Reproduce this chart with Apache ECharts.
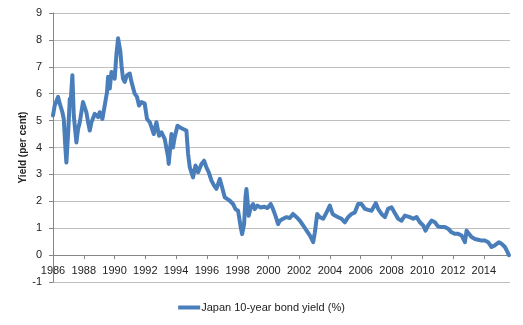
<!DOCTYPE html>
<html>
<head>
<meta charset="utf-8">
<script src="https://cdn.jsdelivr.net/npm/echarts@6/dist/echarts.min.js"></script>
<style>
  html, body { margin: 0; padding: 0; background: #fff; }
  #chart { width: 523px; height: 325px; }
</style>
</head>
<body>
<div id="chart"></div>
<script>
// Japan 10-year government bond yield, sampled as (decimal year, per cent)
const years = [
  1986.00, 1986.11, 1986.33, 1986.44, 1986.61, 1986.70, 1986.81, 1986.87, 1986.99, 1987.09,
  1987.13, 1987.26, 1987.35, 1987.52, 1987.63, 1987.74, 1987.95, 1988.06, 1988.17, 1988.28,
  1988.39, 1988.50, 1988.71, 1988.93, 1989.04, 1989.21, 1989.36, 1989.51, 1989.58, 1989.69,
  1989.80, 1989.90, 1990.01, 1990.12, 1990.23, 1990.29, 1990.38, 1990.45, 1990.55, 1990.66,
  1990.81, 1990.99, 1991.10, 1991.31, 1991.46, 1991.59, 1991.75, 1991.96, 1992.11, 1992.29,
  1992.55, 1992.72, 1992.89, 1993.05, 1993.26, 1993.48, 1993.52, 1993.70, 1993.80, 1993.91,
  1994.09, 1994.24, 1994.45, 1994.67, 1994.78, 1994.89, 1995.10, 1995.26, 1995.43, 1995.65,
  1995.82, 1995.97, 1996.12, 1996.30, 1996.47, 1996.62, 1996.84, 1996.99, 1997.16, 1997.34,
  1997.49, 1997.70, 1997.86, 1998.03, 1998.20, 1998.29, 1998.42, 1998.51, 1998.57, 1998.64,
  1998.72, 1998.85, 1999.00, 1999.11, 1999.29, 1999.50, 1999.72, 1999.94, 2000.15, 2000.30,
  2000.46, 2000.63, 2000.74, 2000.95, 2001.18, 2001.39, 2001.60, 2001.83, 2002.04, 2002.26,
  2002.48, 2002.69, 2002.91, 2003.02, 2003.17, 2003.34, 2003.56, 2003.78, 2003.99, 2004.17,
  2004.32, 2004.53, 2004.75, 2004.97, 2005.18, 2005.40, 2005.62, 2005.83, 2006.05, 2006.27,
  2006.48, 2006.70, 2006.98, 2007.13, 2007.35, 2007.57, 2007.78, 2008.00, 2008.22, 2008.43,
  2008.65, 2008.87, 2008.98, 2009.19, 2009.41, 2009.63, 2009.84, 2010.06, 2010.21, 2010.38,
  2010.60, 2010.82, 2011.03, 2011.25, 2011.47, 2011.68, 2011.90, 2012.12, 2012.33, 2012.55,
  2012.77, 2012.88, 2013.03, 2013.20, 2013.42, 2013.63, 2013.85, 2014.07, 2014.28, 2014.50,
  2014.71, 2014.97, 2015.15, 2015.37, 2015.54, 2015.63
];
const yields = [
  5.19, 5.56, 5.88, 5.63, 5.31, 5.06, 3.94, 3.44, 4.60, 5.81,
  5.56, 6.69, 5.19, 4.19, 4.69, 4.94, 5.69, 5.75, 5.31, 4.94,
  4.63, 4.94, 5.25, 5.13, 5.31, 5.06, 5.56, 6.06, 6.63, 6.19,
  6.81, 6.88, 6.56, 7.44, 8.06, 8.13, 7.56, 7.06, 6.56, 6.44,
  6.69, 6.75, 6.44, 6.00, 5.88, 5.56, 5.69, 5.63, 5.06, 4.94,
  4.50, 4.94, 4.44, 4.56, 4.32, 3.64, 3.39, 4.50, 4.00, 4.38,
  4.81, 4.75, 4.69, 4.63, 3.76, 3.26, 2.89, 3.33, 3.08, 3.39,
  3.51, 3.26, 3.08, 2.77, 2.58, 2.46, 2.83, 2.52, 2.15, 2.08,
  2.02, 1.90, 1.71, 1.65, 1.03, 0.78, 1.15, 2.15, 2.46, 2.02,
  1.46, 1.77, 1.90, 1.71, 1.84, 1.77, 1.80, 1.75, 1.90, 1.71,
  1.46, 1.15, 1.28, 1.35, 1.41, 1.38, 1.53, 1.41, 1.28, 1.10,
  0.91, 0.73, 0.48, 0.85, 1.53, 1.41, 1.35, 1.59, 1.84, 1.53,
  1.47, 1.41, 1.35, 1.22, 1.41, 1.53, 1.59, 1.90, 1.90, 1.72,
  1.68, 1.65, 1.93, 1.72, 1.53, 1.41, 1.72, 1.78, 1.56, 1.35,
  1.28, 1.47, 1.53, 1.41, 1.35, 1.41, 1.22, 1.10, 0.91, 1.10,
  1.28, 1.22, 1.06, 1.04, 1.04, 0.98, 0.85, 0.79, 0.79, 0.73,
  0.48, 0.91, 0.79, 0.67, 0.60, 0.57, 0.54, 0.54, 0.48, 0.30,
  0.36, 0.48, 0.42, 0.30, 0.11, 0.00
];
const yearTicks = [1986, 1988, 1990, 1992, 1994, 1996, 1998, 2000, 2002, 2004, 2006, 2008, 2010, 2012, 2014];
const seriesName = 'Japan 10-year bond yield (%)';

const points = years.map((y, i) => [y, yields[i]]);

const chart = echarts.init(document.getElementById('chart'), null, { renderer: 'canvas' });
const textColor = '#222';
const font = 'Liberation Sans, Arial, sans-serif';

chart.setOption({
  animation: false,
  backgroundColor: '#fff',
  grid: { left: 53, right: 13, top: 13, bottom: 43, containLabel: false },
  xAxis: {
    type: 'value',
    min: 1986,
    max: 2015.7,
    interval: 2,
    axisLine: { onZero: true, lineStyle: { color: '#868686', width: 1 } },
    axisTick: { show: true, length: 4, customValues: yearTicks, lineStyle: { color: '#868686' } },
    // year labels sit just under the zero line, above the -1 gridline
    axisLabel: {
      customValues: yearTicks,
      margin: -17,
      color: textColor,
      fontFamily: font,
      fontSize: 11,
      formatter: v => String(Math.round(v))
    },
    splitLine: { show: false }
  },
  yAxis: {
    type: 'value',
    min: -1,
    max: 9,
    interval: 1,
    name: 'Yield (per cent)',
    nameLocation: 'middle',
    nameRotate: 90,
    nameGap: 25,
    nameMoveOverlap: false,
    nameTextStyle: { color: textColor, fontFamily: font, fontSize: 10, fontWeight: 'bold' },
    axisLine: { show: true, lineStyle: { color: '#868686', width: 1 } },
    axisTick: { show: true, length: 4, lineStyle: { color: '#868686' } },
    axisLabel: { margin: 11, color: textColor, fontFamily: font, fontSize: 11 },
    splitLine: { show: true, lineStyle: { color: '#bfbfbf', width: 1 } }
  },
  legend: {
    data: [{ name: seriesName, icon: 'rect' }],
    left: 'center',
    top: 297,
    itemWidth: 22,
    itemHeight: 4,
    textStyle: { color: textColor, fontFamily: font, fontSize: 11, padding: [0, 0, 0, -4] }
  },
  series: [{
    name: seriesName,
    type: 'line',
    data: points,
    showSymbol: false,
    symbol: 'none',
    lineStyle: { color: '#4a7ebb', width: 4, join: 'round', cap: 'round' },
    itemStyle: { color: '#4a7ebb' }
  }]
});
</script>
</body>
</html>
